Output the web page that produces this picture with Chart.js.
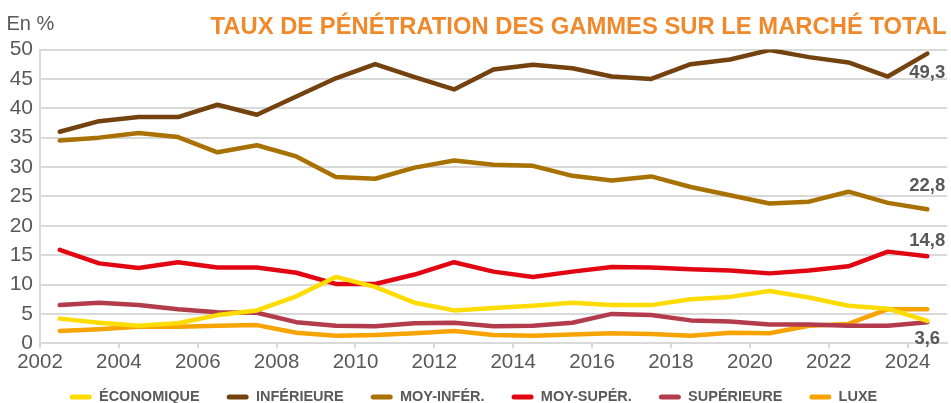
<!DOCTYPE html>
<html>
<head>
<meta charset="utf-8">
<script src="https://cdn.jsdelivr.net/npm/chart.js@4.4.1/dist/chart.umd.min.js"></script>
<style>
html,body{margin:0;padding:0;background:#ffffff;}
#wrap{width:951px;height:403px;position:relative;}
canvas{display:block;}
</style>
</head>
<body>
<div id="wrap"><canvas id="c" width="951" height="403"></canvas></div>
<script>
// ---- Data ----
const years = [2002.5, 2003.5, 2004.5, 2005.5, 2006.5, 2007.5, 2008.5, 2009.5, 2010.5, 2011.5, 2012.5, 2013.5,
               2014.5, 2015.5, 2016.5, 2017.5, 2018.5, 2019.5, 2020.5, 2021.5, 2022.5, 2023.5, 2024.5];
const seriesNames = ['ÉCONOMIQUE', 'INFÉRIEURE', 'MOY-INFÉR.', 'MOY-SUPÉR.', 'SUPÉRIEURE', 'LUXE'];
const economique = [4.2, 3.5, 3.0, 3.4, 4.8, 5.6, 8.0, 11.3, 9.6, 6.9, 5.6, 6.0, 6.4, 6.9, 6.5, 6.5, 7.5, 7.9, 8.9, 7.8, 6.4, 5.9, 3.8];
const inferieure = [36.0, 37.8, 38.5, 38.5, 40.6, 38.9, 42.0, 45.1, 47.5, 45.3, 43.2, 46.6, 47.4, 46.8, 45.4, 45.0, 47.5, 48.3, 49.9, 48.7, 47.8, 45.4, 49.3];
const moyInfer   = [34.5, 35.0, 35.8, 35.1, 32.5, 33.7, 31.8, 28.3, 28.0, 29.9, 31.1, 30.4, 30.2, 28.5, 27.7, 28.4, 26.6, 25.2, 23.8, 24.1, 25.8, 23.9, 22.8];
const moySuper   = [15.9, 13.6, 12.8, 13.8, 12.9, 12.9, 12.0, 10.1, 10.1, 11.7, 13.8, 12.2, 11.3, 12.2, 13.0, 12.9, 12.6, 12.4, 11.9, 12.4, 13.1, 15.6, 14.8];
const superieure = [6.5, 6.9, 6.5, 5.8, 5.3, 5.2, 3.6, 3.0, 2.9, 3.4, 3.5, 2.9, 3.0, 3.5, 5.0, 4.8, 3.9, 3.7, 3.2, 3.2, 3.0, 3.0, 3.6];
const luxe       = [2.1, 2.4, 2.8, 2.8, 3.0, 3.1, 1.8, 1.3, 1.4, 1.7, 2.1, 1.4, 1.3, 1.5, 1.7, 1.6, 1.3, 1.8, 1.7, 3.0, 3.3, 5.8, 5.8];
const xTicks = [2002, 2004, 2006, 2008, 2010, 2012, 2014, 2016, 2018, 2020, 2022, 2024];
const yTicks = [0, 5, 10, 15, 20, 25, 30, 35, 40, 45, 50];
const titleText = 'TAUX DE PÉNÉTRATION DES GAMMES SUR LE MARCHÉ TOTAL';
const unitText = 'En %';
// series that carry an end-of-line value label
const endLabelSeries = ['INFÉRIEURE', 'MOY-INFÉR.', 'MOY-SUPÉR.', 'SUPÉRIEURE'];

// ---- Styles ----
const FONT = '"Liberation Sans", Arial, Helvetica, sans-serif';
const GREY_TXT = '#595959';
const GRID = '#d9d9d9';
const colors = ['#FFDC00', '#74420F', '#A87100', '#E20613', '#B33C4C', '#F7A300'];
const endLabelDy = { 'INFÉRIEURE': 19, 'MOY-INFÉR.': -23.5, 'MOY-SUPÉR.': -15, 'SUPÉRIEURE': 16.5 };
const LEGEND_PAD = 27;
const LEGEND_TOP = 362.75;

const allSeries = [economique, inferieure, moyInfer, moySuper, superieure, luxe];
const datasets = seriesNames.map((name, i) => ({
  label: name,
  data: allSeries[i].map((v, k) => ({ x: years[k], y: v })),
  borderColor: colors[i],
  backgroundColor: colors[i],
  borderWidth: 4.5,
  borderCapStyle: 'round',
  borderJoinStyle: 'round',
  pointRadius: 0,
  pointHoverRadius: 0,
  tension: 0,
  fill: false
}));

const decorPlugin = {
  id: 'decor',
  beforeLayout(chart) {
    const lg = chart.legend;
    if (lg && !lg._fitPatched) {
      const orig = lg.fit;
      lg.fit = function () { orig.call(this); this.height = 33.7; };
      lg._fitPatched = true;
    }
  },
  afterLayout(chart) {
    const lg = chart.legend;
    if (lg) {
      lg.top = LEGEND_TOP;
      lg.bottom = chart.height;
      lg.height = lg.bottom - lg.top;
    }
  },
  afterDatasetsDraw(chart) {
    const ctx = chart.ctx;
    ctx.save();
    ctx.font = 'bold 18.5px ' + FONT;
    ctx.fillStyle = GREY_TXT;
    ctx.textAlign = 'center';
    ctx.textBaseline = 'middle';
    chart.data.datasets.forEach((ds, i) => {
      if (!endLabelSeries.includes(ds.label)) return;
      const meta = chart.getDatasetMeta(i);
      const pt = meta.data[meta.data.length - 1];
      const v = ds.data[ds.data.length - 1].y;
      ctx.fillText(v.toFixed(1).replace('.', ','), pt.x, pt.y + endLabelDy[ds.label]);
    });
    ctx.restore();
  },
  afterDraw(chart) {
    const ctx = chart.ctx;
    ctx.save();
    ctx.textBaseline = 'alphabetic';
    ctx.font = 'bold 23.8px ' + FONT;
    ctx.fillStyle = '#F0892B';
    ctx.textAlign = 'right';
    ctx.fillText(titleText, 946.5, 34);
    ctx.font = '20px ' + FONT;
    ctx.fillStyle = GREY_TXT;
    ctx.textAlign = 'left';
    ctx.fillText(unitText, 6.5, 30);
    ctx.restore();
  }
};

new Chart(document.getElementById('c'), {
  type: 'line',
  data: { datasets },
  plugins: [decorPlugin],
  options: {
    responsive: false,
    animation: false,
    devicePixelRatio: 1,
    layout: { padding: { top: 49.5, left: 0, right: 4, bottom: 0 } },
    plugins: {
      tooltip: { enabled: false },
      title: { display: false },
      legend: {
        display: true,
        position: 'bottom',
        align: 'center',
        labels: {
          boxWidth: 22,
          boxHeight: 5,
          padding: LEGEND_PAD,
          useBorderRadius: true,
          borderRadius: 2.5,
          color: GREY_TXT,
          font: { family: FONT, size: 14.5, weight: 'bold' },
          generateLabels(chart) {
            return chart.data.datasets.map((ds, i) => ({
              text: ds.label,
              fillStyle: ds.borderColor,
              strokeStyle: ds.borderColor,
              lineWidth: 0,
              borderRadius: 2.5,
              fontColor: GREY_TXT,
              hidden: false,
              datasetIndex: i
            }));
          }
        }
      }
    },
    scales: {
      x: {
        type: 'linear',
        min: 2002,
        max: 2025,
        afterBuildTicks(scale) { scale.ticks = xTicks.map(v => ({ value: v })); },
        afterFit(scale) { scale.height = 26; },
        grid: { drawOnChartArea: false, drawTicks: true, tickLength: 5, color: GRID, lineWidth: 2 },
        border: { display: true, color: GRID, width: 2 },
        ticks: {
          padding: 2,
          color: GREY_TXT,
          font: { family: FONT, size: 20.5 },
          maxRotation: 0,
          autoSkip: false,
          callback: (v) => String(v)
        }
      },
      y: {
        min: 0,
        max: 50,
        afterBuildTicks(scale) { scale.ticks = yTicks.map(v => ({ value: v })); },
        afterFit(scale) { scale.width = 40; },
        grid: { drawTicks: false, color: GRID, lineWidth: 2 },
        border: { display: true, color: GRID, width: 2 },
        ticks: {
          padding: 7,
          color: GREY_TXT,
          font: { family: FONT, size: 21 },
          autoSkip: false,
          callback: (v) => String(v)
        }
      }
    }
  }
});
</script>
</body>
</html>
